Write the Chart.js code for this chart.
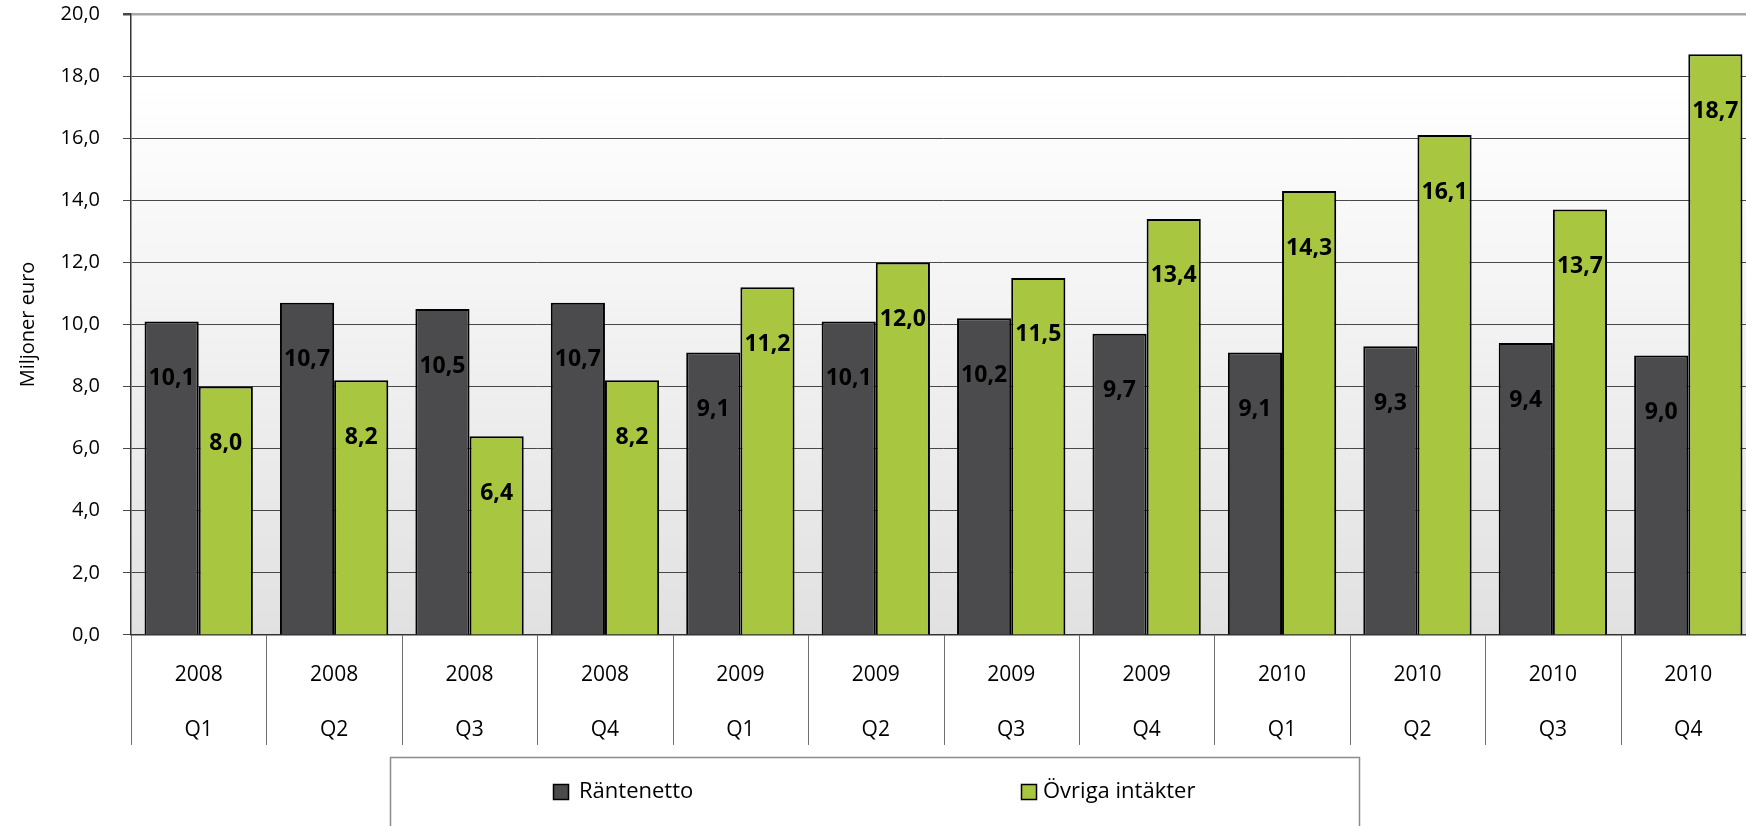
<!DOCTYPE html>
<html>
<head>
<meta charset="utf-8">
<script src="https://cdn.jsdelivr.net/npm/chart.js@4.4.1/dist/chart.umd.min.js"></script>
<style>
  html, body { margin: 0; padding: 0; background: #ffffff; overflow: hidden; }
  #wrap { width: 1760px; height: 826px; }
  canvas { display: block; }
</style>
</head>
<body>
<div id="wrap"><canvas id="c" width="1760" height="826" style="width:1760px;height:826px"></canvas></div>
<script>
// ---- data ----
const years = ["2008", "2008", "2008", "2008", "2009", "2009", "2009", "2009", "2010", "2010", "2010", "2010"];
const quarters = ["Q1", "Q2", "Q3", "Q4", "Q1", "Q2", "Q3", "Q4", "Q1", "Q2", "Q3", "Q4"];
const rantenetto = [10.1, 10.7, 10.5, 10.7, 9.1, 10.1, 10.2, 9.7, 9.1, 9.3, 9.4, 9.0];
const ovrigaIntakter = [8.0, 8.2, 6.4, 8.2, 11.2, 12.0, 11.5, 13.4, 14.3, 16.1, 13.7, 18.7];
const seriesNames = ["Räntenetto", "Övriga intäkter"];
const yTitle = "Miljoner euro";

const FONT = "'Open Sans', 'DejaVu Sans', sans-serif";
const fmt = v => Number(v).toFixed(1).replace('.', ',');
const labels = years.map((y, i) => [y, quarters[i]]);

const bgPlugin = {
  id: 'bg',
  beforeDraw(chart) {
    const { ctx, chartArea: a } = chart;
    const g = ctx.createLinearGradient(0, a.top, 0, a.bottom);
    g.addColorStop(0, '#ffffff');
    g.addColorStop(0.12, '#ffffff');
    g.addColorStop(1, '#e1e1e1');
    ctx.save();
    ctx.fillStyle = g;
    ctx.fillRect(a.left, a.top, a.right - a.left, a.bottom - a.top);
    ctx.restore();
  }
};

const dividerPlugin = {
  id: 'dividers',
  afterDraw(chart) {
    const { ctx, chartArea: a } = chart;
    const xs = chart.scales.x;
    const n = chart.data.labels.length;
    ctx.save();
    ctx.strokeStyle = '#6e6e6e';
    ctx.lineWidth = 1;
    for (let i = 0; i <= n; i++) {
      const x = Math.round(xs.getPixelForValue(i - 0.5)) + 0.5;
      ctx.beginPath();
      ctx.moveTo(x, a.bottom);
      ctx.lineTo(x, a.bottom + 110);
      ctx.stroke();
    }
    ctx.restore();
  }
};

const valueLabelPlugin = {
  id: 'valueLabels',
  afterDatasetsDraw(chart) {
    const { ctx } = chart;
    ctx.save();
    ctx.font = "bold 23px " + FONT;
    ctx.fillStyle = '#000000';
    ctx.textAlign = 'center';
    ctx.textBaseline = 'middle';
    chart.data.datasets.forEach((ds, di) => {
      const meta = chart.getDatasetMeta(di);
      meta.data.forEach((bar, i) => {
        ctx.fillText(fmt(ds.data[i]), bar.x, bar.y + 57);
      });
    });
    ctx.restore();
  }
};

const legendPlugin = {
  id: 'boxLegend',
  afterDraw(chart) {
    const { ctx } = chart;
    ctx.save();
    ctx.strokeStyle = '#8c8c8c';
    ctx.lineWidth = 1.5;
    ctx.strokeRect(390.5, 757.5, 969, 120);
    const items = [
      { x: 553, tx: 579 },
      { x: 1021, tx: 1043 }
    ];
    ctx.font = "22px " + FONT;
    ctx.textBaseline = 'middle';
    ctx.textAlign = 'left';
    chart.data.datasets.forEach((ds, i) => {
      const it = items[i];
      const cy = 792;
      ctx.fillStyle = ds.backgroundColor;
      ctx.fillRect(it.x, cy - 8, 16, 16);
      ctx.strokeStyle = '#000000';
      ctx.lineWidth = 1.5;
      ctx.strokeRect(it.x + 0.5, cy - 7.5, 15, 15);
      ctx.fillStyle = '#000000';
      ctx.fillText(ds.label, it.tx, cy);
    });
    ctx.restore();
  }
};

new Chart(document.getElementById('c'), {
  type: 'bar',
  data: {
    labels: labels,
    datasets: [
      {
        label: seriesNames[0],
        data: rantenetto,
        backgroundColor: '#4b4b4d',
        borderColor: '#000000',
        borderWidth: 2,
        categoryPercentage: 0.8,
        barPercentage: 1.0
      },
      {
        label: seriesNames[1],
        data: ovrigaIntakter,
        backgroundColor: '#a8c640',
        borderColor: '#000000',
        borderWidth: 2,
        categoryPercentage: 0.8,
        barPercentage: 1.0
      }
    ]
  },
  options: {
    responsive: false,
    animation: false,
    devicePixelRatio: 1,
    layout: { padding: { left: 0, right: 4, top: 14, bottom: 55 } },
    plugins: {
      legend: { display: false },
      tooltip: { enabled: false }
    },
    scales: {
      x: {
        grid: { display: false, drawTicks: false },
        border: { display: true, color: '#333333', width: 1.5 },
        ticks: {
          color: '#000000',
          font: { family: FONT, size: 21, lineHeight: 2.62 },
          padding: 13,
          maxRotation: 0,
          autoSkip: false
        }
      },
      y: {
        min: 0,
        max: 20,
        afterFit(scale) {
          scale.width = 131;
          scale.paddingTop = 0;
          scale.paddingBottom = 0;
        },
        ticks: {
          stepSize: 2,
          color: '#000000',
          font: { family: FONT, size: 20 },
          padding: 23,
          callback: v => fmt(v)
        },
        grid: {
          color: ctx => (ctx.tick && ctx.tick.value === 20) ? '#a8a8a8' : '#484848',
          lineWidth: ctx => (ctx.tick && ctx.tick.value === 20) ? 2.5 : 1,
          tickColor: '#484848',
          tickLength: 8
        },
        border: { display: true, color: '#333333', width: 1.5 },
        title: {
          display: true,
          text: yTitle,
          color: '#000000',
          font: { family: FONT, size: 20 },
          padding: { top: 16, bottom: 0 }
        }
      }
    }
  },
  plugins: [bgPlugin, dividerPlugin, valueLabelPlugin, legendPlugin]
});
</script>
</body>
</html>
